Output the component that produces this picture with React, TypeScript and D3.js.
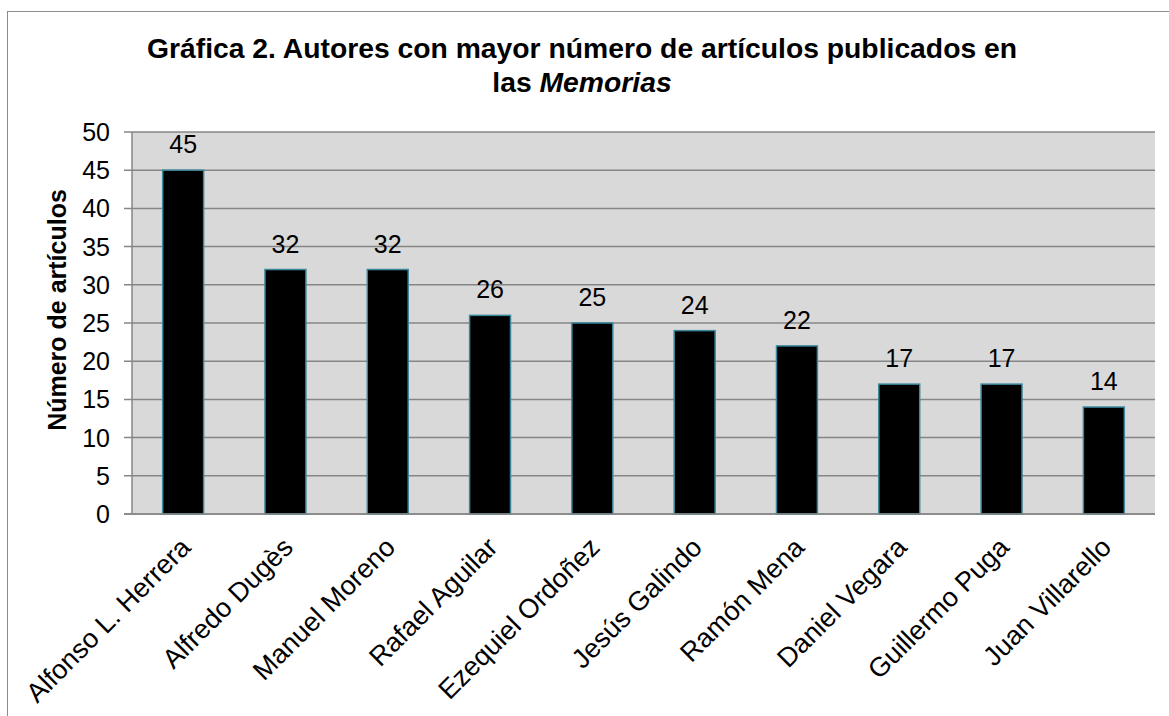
import React from "react";
import * as d3 from "d3";

const authors = [
  "Alfonso L. Herrera",
  "Alfredo Dugès",
  "Manuel Moreno",
  "Rafael Aguilar",
  "Ezequiel Ordoñez",
  "Jesús Galindo",
  "Ramón Mena",
  "Daniel Vegara",
  "Guillermo Puga",
  "Juan Villarello",
];
const articles = [45, 32, 32, 26, 25, 24, 22, 17, 17, 14];
const yTicks = [0, 5, 10, 15, 20, 25, 30, 35, 40, 45, 50];
const titleLine1 = "Gráfica 2. Autores con mayor número de artículos publicados en";
const titleLine2a = "las ";
const titleLine2b = "Memorias";
const yAxisTitle = "Número de artículos";

const W = 1169;
const H = 716;
const plot = { left: 132, right: 1155, top: 132, bottom: 514 };
const FONT = "'Liberation Sans', Arial, sans-serif";
const GRID = "#868686";

export default function App() {
  const x = d3
    .scaleBand<string>()
    .domain(authors)
    .range([plot.left, plot.right])
    .paddingInner(0.6)
    .paddingOuter(0.3);
  const y = d3.scaleLinear().domain([0, 50]).range([plot.bottom, plot.top]);

  return (
    <svg
      width={W}
      height={H}
      style={{ position: "absolute", left: 0, top: 0, background: "#fff" }}
      fontFamily={FONT}
    >
      <rect x={0} y={0} width={W} height={H} fill="#fff" />
      <rect
        x={7.5}
        y={11.5}
        width={W + 20}
        height={H + 20}
        fill="none"
        stroke="#8c8c8c"
        strokeWidth={1}
      />
      {/* title */}
      <text x={582} y={58} textAnchor="middle" fontSize={28.3} fontWeight="bold" fill="#000">
        {titleLine1}
      </text>
      <text x={582} y={92} textAnchor="middle" fontSize={28.3} fontWeight="bold" fill="#000">
        {titleLine2a}
        <tspan fontStyle="italic">{titleLine2b}</tspan>
      </text>

      {/* plot background */}
      <rect
        x={plot.left}
        y={plot.top}
        width={plot.right - plot.left}
        height={plot.bottom - plot.top}
        fill="#d9d9d9"
      />
      {/* gridlines and ticks */}
      {yTicks.map((t) => (
        <g key={t}>
          <line
            x1={plot.left - 8}
            x2={plot.right}
            y1={y(t)}
            y2={y(t)}
            stroke={GRID}
            strokeWidth={1.5}
          />
          <text
            x={110}
            y={y(t)}
            dy="0.36em"
            textAnchor="end"
            fontSize={25}
            fill="#000"
          >
            {t}
          </text>
        </g>
      ))}
      <line
        x1={plot.left}
        x2={plot.left}
        y1={plot.top}
        y2={plot.bottom}
        stroke={GRID}
        strokeWidth={1.5}
      />

      {/* bars */}
      {authors.map((a, i) => (
        <g key={a}>
          <rect
            x={x(a)!}
            y={y(articles[i])}
            width={x.bandwidth()}
            height={y(0) - y(articles[i])}
            fill="#000"
            stroke="#3b879c"
            strokeWidth={1.5}
          />
          <text
            x={x(a)! + x.bandwidth() / 2}
            y={y(articles[i]) - 17}
            textAnchor="middle"
            fontSize={25}
            fill="#000"
          >
            {articles[i]}
          </text>
        </g>
      ))}
      <line
        x1={plot.left - 8}
        x2={plot.right}
        y1={plot.bottom}
        y2={plot.bottom}
        stroke={GRID}
        strokeWidth={1.5}
      />

      {/* x labels */}
      {authors.map((a) => {
        const cx = x(a)! + x.bandwidth() / 2;
        return (
          <text
            key={a}
            transform={`translate(${cx + 9},${549}) rotate(-45)`}
            textAnchor="end"
            fontSize={27}
            fill="#000"
          >
            {a}
          </text>
        );
      })}

      {/* y axis title */}
      <text
        transform={`translate(66,310) rotate(-90)`}
        textAnchor="middle"
        fontSize={25}
        fontWeight="bold"
        fill="#000"
      >
        {yAxisTitle}
      </text>
    </svg>
  );
}
